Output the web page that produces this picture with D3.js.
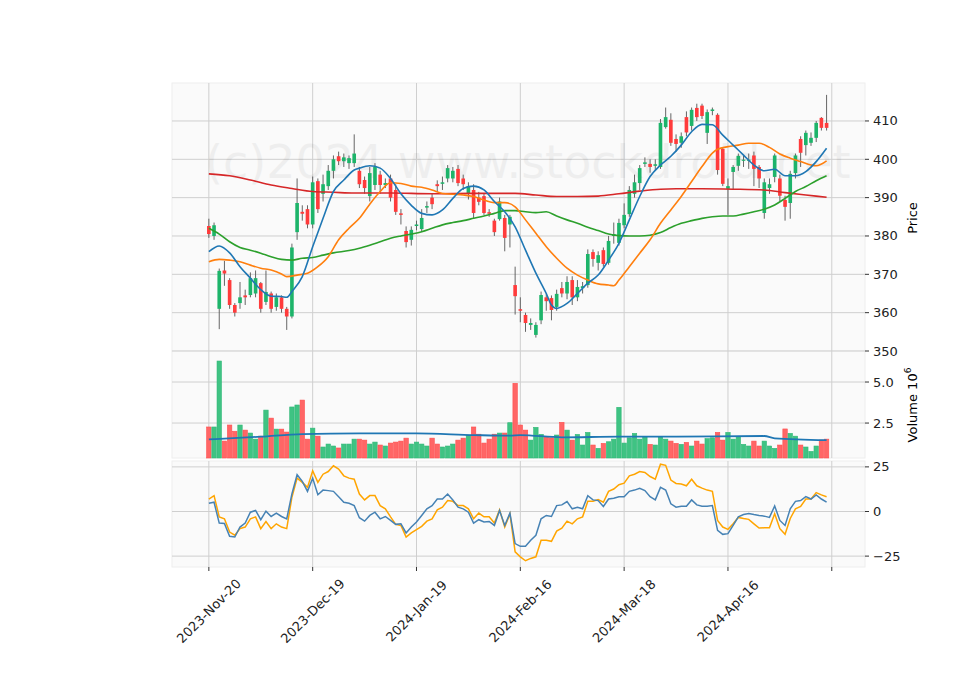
<!DOCTYPE html>
<html><head><meta charset="utf-8">
<script src="https://cdn.jsdelivr.net/npm/d3@7"></script>
<style>body{margin:0;background:#fff}text{font-family:"DejaVu Sans",sans-serif}</style>
</head><body><svg id="c" width="960" height="690"></svg>
<script>
const tickLabels = ["2023-Nov-20","2023-Dec-19","2024-Jan-19","2024-Feb-16","2024-Mar-18","2024-Apr-16",""];
const tickIdx = [0,20,40,60,80,100,120];
const opens = [382.6,380,361,371,368.5,362,362.5,364.5,364.6,365,367.7,362.8,365,361.5,364,361,359,381,386.3,387,383,394.3,391,393,397,400.8,399.5,399,399,397,394.6,390.4,393.3,396,393.3,395,392,385.9,381.3,379,382.6,381.8,387.4,390,393.5,393.6,395,395,397.5,395,391,392,390,390.4,386.2,384,384.4,384.7,383,367.2,360.9,359.4,356.8,354.2,358,364,363.8,361.5,366.4,365,368.5,364,366.4,367.2,375.8,373,376.3,373,380,378.2,382.8,385.7,391,393.8,398.8,398.8,398.3,398,408.4,410.3,405.3,404.3,411,408.7,413.4,414,406.9,412.6,411.6,402.7,392.3,396.7,398.3,399.6,399.6,401,398,386,392.5,395.4,395,389.4,388.6,396.4,405.3,403.7,404.3,405.6,410.8,409.5];
const closes = [380.5,382.8,370.9,370.2,362,360,364,364,369,369,361,365.4,361,364,361,359,377,388.6,385.8,383,394,387,393.5,397,400,399.5,400.5,400.3,401.5,393.5,392.5,396.4,398,393.3,393.8,390,386.3,385.5,378.4,381.6,383,384.7,387.8,388.3,393,394,397.7,397,393.8,393.5,393,386,388.9,386,385.8,381,389,379.5,385,364.3,360.5,357.3,357.3,356.8,364.6,363,360.7,364.9,365,368,364,366.7,366.9,375.3,374,375,372.7,378.7,380.5,383.4,385.5,392,394,397.7,399.2,398,398.7,409.5,411,404.3,404,406,407,412.9,411,411.3,412.3,413,397.2,393.6,393,398,400.9,399.9,399.9,397.5,395,394,393.5,401,390.5,387.6,396.2,401,401.7,406.9,405.6,409.5,408.2,408.2];
const highs = [384.5,383.5,371.5,373.5,369,362.5,368,366,370.5,371,368,371,365.5,365,364.5,361.5,378,395,388,388,395.5,395,396,398.5,401,402,401.5,401,406.5,398,395.5,398,399,397,395,396,393.5,387,382.5,382.5,384,387,389,391,394.5,395.5,398.5,398,398.5,396,394,393.5,391.5,391,387,384.5,390,385.5,385.5,372,364,360,358.5,357.5,365.5,365,364.5,366,368,369.5,369.5,368.5,368,376.5,376.5,376,377,380,383.5,384.5,388.5,393,396,398.5,400.5,400,400,410.5,413.5,412,406.5,407,412.5,413.5,414.5,414.5,413,413.5,412,403,395,398.5,401.5,401,401.5,402,398.5,395,395,401.5,396,390.5,397,401.5,406,407.5,407,410,411,416.8];
const lows = [379.5,379,355.7,367,361,359,361,362,364,364,360,362,360,360.5,360,355.5,358.5,379,384,382,382,386,389,392,395,398.5,398,397.5,398,392.5,391,389,392,391,392.5,389,385.5,383,377,377.5,381.5,381,386,387,391.5,392,394,394,393,392,389.5,384.5,388,385.5,385,380,384,376,377,359.5,357.5,355,355.5,353.5,357,360.5,358,360.5,364,363.5,362,363,365,366.5,372,371,372,372.5,378,377.5,382,385,390,392,398,396.5,397,397.5,408,403.5,402,403,406,407.5,410,410.5,404,411.5,396,393,385.5,392,397,398,397.5,393,392.5,384.5,391,394,389,384,384.5,395,398,401,403.5,404.5,407.5,407.5];
const volumes = [2.26,2.26,6.28,1.4,2.38,2.0,2.38,2.07,1.89,1.52,1.7,3.29,2.8,2.13,2.13,1.95,3.48,3.6,3.9,1.52,2.19,1.7,1.04,1.22,1.1,0.98,1.22,1.22,1.52,1.52,1.46,1.22,1.34,1.16,1.1,1.28,1.34,1.4,1.58,1.22,1.34,1.22,1.1,1.58,1.22,1.04,1.1,1.22,1.46,1.58,1.77,2.26,1.82,1.28,1.52,1.82,1.89,1.89,2.52,4.92,2.38,2.07,1.46,2.24,1.81,1.67,1.6,1.77,2.54,2.07,1.46,1.81,1.16,1.93,1.16,0.96,1.26,1.36,1.52,3.46,1.28,1.6,1.87,1.52,1.67,1.2,1.16,1.65,1.52,1.4,1.26,1.2,1.32,1.1,1.4,1.22,1.55,1.6,1.93,1.46,1.93,1.52,1.67,1.2,1.1,1.4,1.1,1.4,1.1,0.96,1.16,2.14,1.87,1.7,1.16,1.04,0.77,1.1,1.46,1.52];
const maBlue = [[0,375.9],[2,377.4],[4,375.6],[6,372],[8,369],[10,366],[12,364.3],[14,364.2],[15,364],[16,365.5],[18,369.4],[20,377.2],[22,384.6],[24,391.6],[26,394.6],[28,397.2],[29,397.7],[31,398.3],[33,397.7],[35,395],[37,391],[39,388],[41,385.9],[43,385.5],[45,386.8],[47,389.8],[49,392.4],[51,393],[53,392],[55,389],[57,386.3],[59,382.4],[61,376.3],[63,370.3],[65,365],[66,362],[67,361.1],[69,362.4],[71,365],[73,367.7],[75,369.8],[77,373.7],[79,378.1],[81,384.2],[83,390.3],[85,395.5],[87,398.5],[89,400.8],[91,403.7],[93,407.2],[95,409.1],[97,409],[99,406.3],[101,403.7],[103,401.1],[105,398.5],[107,397],[109,397.4],[111,395.7],[113,395.7],[115,396.8],[117,399.4],[119,402.9]];
const maOrange = [[0,373.3],[2,373.9],[4,373.7],[6,373.3],[8,372.4],[10,371.6],[12,371.1],[14,370.1],[15,369.4],[17,369.8],[19,370.3],[21,372],[23,374.6],[25,379],[27,382],[29,384.6],[31,388.3],[33,391.6],[35,393.9],[37,393.7],[39,393],[41,392.7],[43,392],[45,391.1],[47,390.9],[49,390.7],[51,390.3],[53,389.4],[55,388.7],[57,388.7],[59,387.6],[61,384.2],[63,380.7],[65,377.2],[67,374.2],[69,371.6],[71,369.8],[73,368.5],[75,367.5],[77,367.2],[78,367],[79,368.5],[81,372],[83,375.5],[85,379],[87,383.3],[89,386.8],[91,390.3],[93,394.2],[95,398.1],[97,401.6],[98,402.6],[100,403.3],[102,403.7],[104,404.2],[106,404.2],[108,403.1],[110,401.4],[112,400.3],[114,399.4],[116,398.5],[117,398.3],[119,399.6]];
const maGreen = [[0,382],[2,380.5],[4,378.5],[6,377],[8,376.3],[10,375.5],[12,374.6],[14,373.9],[16,373.7],[18,374.2],[20,374.4],[22,375],[24,375.6],[27,376.2],[29,376.8],[31,377.6],[33,378.5],[35,379.4],[37,380],[39,380.5],[41,381.1],[43,382],[45,382.9],[47,383.5],[49,384],[51,384.6],[53,385.2],[55,385.9],[57,386.6],[59,386.6],[61,386.3],[63,386.1],[65,386.3],[67,385.2],[69,384.2],[71,383.3],[73,382.3],[75,381.4],[77,380.5],[79,380.1],[81,380],[83,380],[85,380.2],[87,380.9],[89,382.2],[91,383.3],[93,384],[95,384.6],[97,385],[99,385.2],[101,385.2],[103,385.7],[105,386.3],[107,387],[109,388.1],[111,389.8],[113,391.6],[115,392.9],[117,394.4],[119,395.7]];
const maRed = [[0,396.2],[4,395.7],[8,394.6],[12,393.3],[16,392.4],[20,391.6],[24,391.4],[28,391.2],[35,391.2],[43,391],[51,391.1],[59,391.1],[63,390.7],[67,390.3],[71,390.3],[75,390.4],[79,391],[83,391.7],[87,392.2],[90,392.3],[95,392.3],[101,392.2],[107,392],[111,391.3],[115,390.7],[119,390.1]];
const volMA = [[0,1.5],[10,1.67],[18,1.83],[29,1.87],[40,1.87],[51,1.77],[58,1.73],[60,1.77],[68,1.63],[79,1.67],[90,1.67],[107,1.71],[109,1.57],[119,1.46]];
const indBlue = [4.6,5.2,-6.5,-6.7,-13.9,-14.3,-8.7,-6.5,-0.4,0.6,-4.6,0.2,-2.8,-0.9,-2.8,-4.1,9.8,20.6,16.9,11.3,18.7,9.4,12,11.7,11.3,8.3,5.2,4.6,3.3,-3.5,-5.4,-2.2,-0.4,-4.1,-2.8,-5,-7.2,-6.9,-12,-8.7,-5.9,-2.2,1.5,3.3,7,7,9.8,6.5,2.4,1.5,-0.4,-6.5,-4.6,-5.9,-5.6,-7.8,0.6,-7.8,
 -0.9,-18,-19.5,-19.5,-16.1,-13.3,-4.1,-2.2,-2.8,3.3,3.7,5.6,1.5,2.4,1.5,8.9,6.5,6.1,2.8,7,7.4,8.3,8.3,11.3,12,13,11.7,8.3,6.5,13.5,12,4.3,2.4,3,3,6.5,3.7,3,3,3.3,-10.6,-12.8,-12.4,-7.8,-3,-1.7,-1.1,-1.7,-2.2,-2.6,-3.3,3.1,-5,-7.8,1.5,5.7,6.1,8.3,7,9.3,7,5.2];
const indOrange = [7,8.9,-3,-4.1,-11.5,-13.3,-9.6,-8.7,-4.1,-3,-9.6,-5.6,-9.6,-6.9,-8.7,-9.6,8,18.7,16.3,13.5,22.8,16.3,20.9,22.4,25.6,23.8,20,18.7,18.1,9.8,6.5,8.9,8.9,3.3,1.5,-3,-7.2,-7.8,-14.3,-12,-10.2,-8.3,-5.4,-4.1,0.9,2.4,6.1,5.7,3.3,3.3,1.5,-4.1,-0.9,-3,-3,-6.5,0.9,-8.7,
 -1.3,-22.6,-25.4,-27.6,-26.3,-25.4,-16.1,-16.1,-16.7,-11,-9.3,-5.4,-6.9,-4.1,-3,5.7,5.7,6.7,5.2,11.3,12.6,15,15.9,20,20.9,22.4,21.9,19.6,18.1,26.5,25.9,17.6,15.7,15.4,14.4,18.1,14.4,13.1,12,11.3,-5,-8.7,-10,-6.9,-3.3,-3.9,-4.4,-6.9,-9.3,-9.1,-9.1,-1.3,-9.6,-12.8,-3.9,1.5,2.8,7,7,10.6,9.3,8.3];
const priceTicks=[350,360,370,380,390,400,410], volTicks=[2.5,5.0], indTicks=[-25,0,25];

const svg=d3.select("#c");
const L=172,R=865;
const x=d3.scaleLinear().domain([-7.1,126.4]).range([L,R]);
const panels=[{t:83,b:351},{t:351,b:458},{t:461,b:567}];
const yP=d3.scaleLinear().domain([350,419.9]).range([351,83]);
const yV=d3.scaleLinear().domain([0.37,6.83]).range([458,352]);
const yI=d3.scaleLinear().domain([-31.1,28.3]).range([567,461]);
const upFill="#1db46a", dn="#ff3b3b", G="#cfcfcf";
svg.append("defs").append("clipPath").attr("id","pc").append("rect").attr("x",L).attr("y",83).attr("width",R-L).attr("height",268);
panels.forEach(p=>svg.append("rect").attr("x",L).attr("y",p.t).attr("width",R-L).attr("height",p.b-p.t).attr("fill","#fafafa").attr("stroke","#eeeeee"));
panels.forEach(p=>tickIdx.forEach(i=>svg.append("line").attr("x1",x(i)).attr("x2",x(i)).attr("y1",p.t).attr("y2",p.b).attr("stroke",G)));
function hgrid(sc,ticks,fmt){
  ticks.forEach(v=>{const y=sc(v);
    svg.append("line").attr("x1",L).attr("x2",R).attr("y1",y).attr("y2",y).attr("stroke",G);
    svg.append("line").attr("x1",R).attr("x2",R+4).attr("y1",y).attr("y2",y).attr("stroke","#333");
    svg.append("text").attr("x",R+8).attr("y",y+4.5).attr("font-size",13).attr("fill","#222").text(fmt(v));});
}
hgrid(yP,priceTicks,d=>d);
hgrid(yV,volTicks,d=>d.toFixed(1));
hgrid(yI,indTicks,d=>d<0?"\u2212"+(-d):d);
svg.append("text").attr("clip-path","url(#pc)").attr("x",205).attr("y",178).attr("font-size",46).attr("fill","#000").attr("opacity",0.045).text("(c)2024 www.stockdroid.net");
const bw=5.19*0.7, vw=5.19*0.85;
const g=svg.append("g");
closes.forEach((c,i)=>{const o=opens[i],isUp=c>=o,col=isUp?upFill:dn;
  g.append("line").attr("x1",x(i)).attr("x2",x(i)).attr("y1",yP(highs[i])).attr("y2",yP(lows[i])).attr("stroke","#555").attr("stroke-width",0.9);
  const yt=yP(Math.max(o,c)), yb=yP(Math.min(o,c));
  g.append("rect").attr("x",x(i)-bw/2).attr("y",yt).attr("width",bw).attr("height",Math.max(1,yb-yt)).attr("fill",col);
  g.append("rect").attr("x",x(i)-vw/2).attr("y",yV(volumes[i])).attr("width",vw).attr("height",458-yV(volumes[i])).attr("fill",isUp?"#3fc383":"#ff6666").attr("stroke",isUp?"#2fb877":"#ff4d4d").attr("stroke-width",0.6);
});
const ln=(sc,curve)=>d3.line().x(d=>x(d[0])).y(d=>sc(d[1])).curve(curve||d3.curveMonotoneX);
[[maRed,"#d62728"],[maGreen,"#2ca02c"],[maOrange,"#ff7f0e"],[maBlue,"#1f77b4"]].forEach(([d,c])=>svg.append("path").attr("d",ln(yP)(d)).attr("fill","none").attr("stroke",c).attr("stroke-width",1.6));
svg.append("path").attr("d",ln(yV)(volMA)).attr("fill","none").attr("stroke","#1f77b4").attr("stroke-width",1.8);
svg.append("path").attr("d",ln(yI,d3.curveLinear)(indOrange.map((v,i)=>[i,v]))).attr("fill","none").attr("stroke","orange").attr("stroke-width",1.5);
svg.append("path").attr("d",ln(yI,d3.curveLinear)(indBlue.map((v,i)=>[i,v]))).attr("fill","none").attr("stroke","#4682b4").attr("stroke-width",1.5);
tickIdx.forEach((i,k)=>{svg.append("line").attr("x1",x(i)).attr("x2",x(i)).attr("y1",567).attr("y2",571).attr("stroke","#333");
  svg.append("text").attr("transform",`translate(${x(i)},${611}) rotate(-45)`).attr("text-anchor","middle").attr("dy","0.35em").attr("font-size",13).attr("fill","#222").text(tickLabels[k]);});
svg.append("text").attr("transform","translate(917,218) rotate(-90)").attr("text-anchor","middle").attr("font-size",13).text("Price");
const vt=svg.append("text").attr("transform","translate(917,405) rotate(-90)").attr("text-anchor","middle").attr("font-size",13);
vt.append("tspan").text("Volume  10");vt.append("tspan").attr("dy",-6).attr("font-size",9).text("6");
</script></body></html>
